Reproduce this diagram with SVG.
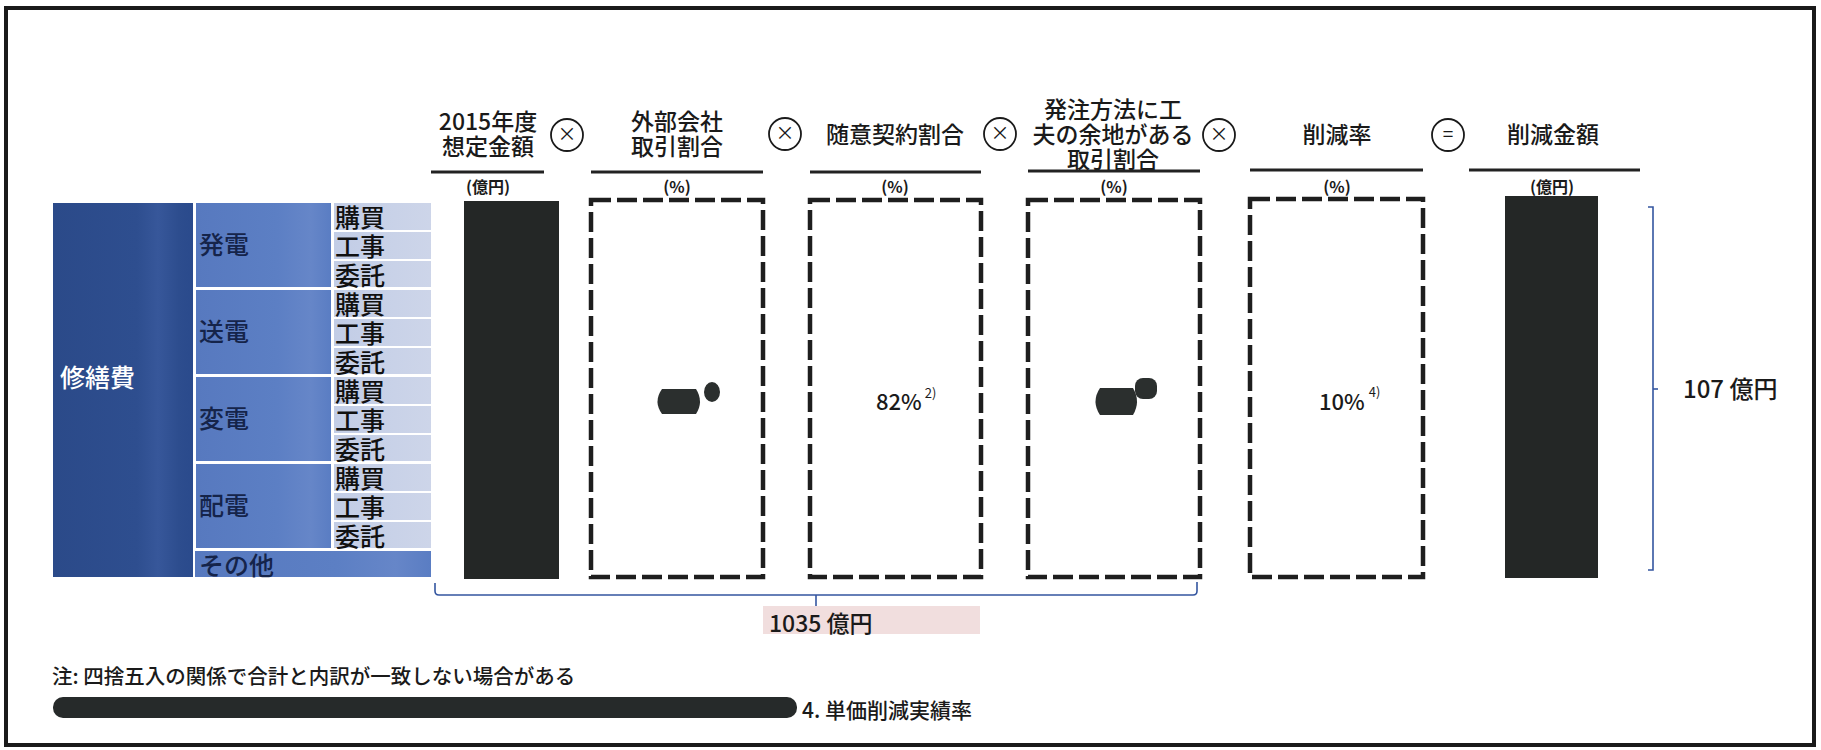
<svg xmlns="http://www.w3.org/2000/svg" width="1821" height="750" viewBox="0 0 1821 750">
<defs>
<style>
text{font-family:"Noto Sans CJK JP","Noto Sans",sans-serif;fill:#1a1a1a}
.h{font-size:23px;text-anchor:middle;font-weight:500}
.u{font-size:16px;text-anchor:middle;font-weight:bold}
.uline{stroke:#222;stroke-width:3}
.dbox{fill:none;stroke:#1e1e1e;stroke-width:4.5;stroke-dasharray:20 6}
.bar{fill:#242726}
.op{fill:none;stroke:#1a1a1a;stroke-width:1.8}
.opt{font-size:19px;text-anchor:middle}
.grp{font-size:25px;fill:#15244a;font-weight:500}
.sub{font-size:25px;fill:#111;font-weight:500}
.bl{fill:none;stroke:#3456a0;stroke-width:1.6}
.sup{font-size:13px;font-weight:normal}
</style>
<linearGradient id="gMain" x1="0" y1="0" x2="1" y2="0">
<stop offset="0" stop-color="#2b4a89"/><stop offset="0.6" stop-color="#2e4e8f"/><stop offset="0.75" stop-color="#37579a"/><stop offset="0.9" stop-color="#2d4d8e"/><stop offset="1" stop-color="#2a4a8c"/>
</linearGradient>
<linearGradient id="gGrp" x1="0" y1="0" x2="1" y2="0">
<stop offset="0" stop-color="#5779bf"/><stop offset="0.6" stop-color="#5c7fc4"/><stop offset="0.85" stop-color="#6686c8"/><stop offset="1" stop-color="#5a7dc3"/>
</linearGradient>
<linearGradient id="gSub" x1="0" y1="0" x2="1" y2="0">
<stop offset="0" stop-color="#c2cde6"/><stop offset="1" stop-color="#cdd5e9"/>
</linearGradient>
</defs>
<rect x="0" y="0" width="1821" height="750" fill="#ffffff"/>
<rect x="6" y="8" width="1808" height="737" fill="none" stroke="#1a1a1a" stroke-width="4"/>

<g id="table">
<g id="main"><rect x="53" y="203" width="140" height="374" fill="url(#gMain)"/><text x="60" y="387" style="font-size:25px;fill:#ffffff;font-weight:500">修繕費</text></g>
<g id="hatsuden"><rect x="196" y="203" width="135" height="84" fill="url(#gGrp)"/><text class="grp" x="199" y="254">発電</text>
<rect x="334" y="203" width="97" height="27" fill="url(#gSub)"/><text class="sub" x="335" y="227">購買</text>
<rect x="334" y="232" width="97" height="27" fill="url(#gSub)"/><text class="sub" x="335" y="256">工事</text>
<rect x="334" y="261" width="97" height="26" fill="url(#gSub)"/><text class="sub" x="335" y="285">委託</text></g>
<g id="souden"><rect x="196" y="290" width="135" height="84" fill="url(#gGrp)"/><text class="grp" x="199" y="341">送電</text>
<rect x="334" y="290" width="97" height="27" fill="url(#gSub)"/><text class="sub" x="335" y="314">購買</text>
<rect x="334" y="319" width="97" height="27" fill="url(#gSub)"/><text class="sub" x="335" y="343">工事</text>
<rect x="334" y="348" width="97" height="26" fill="url(#gSub)"/><text class="sub" x="335" y="372">委託</text></g>
<g id="henden"><rect x="196" y="377" width="135" height="84" fill="url(#gGrp)"/><text class="grp" x="199" y="428">変電</text>
<rect x="334" y="377" width="97" height="27" fill="url(#gSub)"/><text class="sub" x="335" y="401">購買</text>
<rect x="334" y="406" width="97" height="27" fill="url(#gSub)"/><text class="sub" x="335" y="430">工事</text>
<rect x="334" y="435" width="97" height="26" fill="url(#gSub)"/><text class="sub" x="335" y="459">委託</text></g>
<g id="haiden"><rect x="196" y="464" width="135" height="84" fill="url(#gGrp)"/><text class="grp" x="199" y="515">配電</text>
<rect x="334" y="464" width="97" height="27" fill="url(#gSub)"/><text class="sub" x="335" y="488">購買</text>
<rect x="334" y="493" width="97" height="27" fill="url(#gSub)"/><text class="sub" x="335" y="517">工事</text>
<rect x="334" y="522" width="97" height="26" fill="url(#gSub)"/><text class="sub" x="335" y="546">委託</text></g>
<g id="sonota"><rect x="195" y="551" width="236" height="26" fill="url(#gGrp)"/><text class="grp" x="199" y="575">その他</text></g>
</g>

<g id="col1">
<text class="h" x="488" y="130"><tspan x="488" y="130">2015年度</tspan><tspan x="488" y="155">想定金額</tspan></text>
<line class="uline" x1="431" y1="172" x2="544" y2="172"/>
<text class="u" x="488" y="193">(億円)</text>
<rect class="bar" x="464" y="201" width="95" height="378"/>
</g>
<g id="op1"><circle class="op" cx="567" cy="135" r="16"/><text class="opt" x="567" y="141">×</text></g>

<g id="col2">
<text class="h" x="677" y="130"><tspan x="677" y="130">外部会社</tspan><tspan x="677" y="155">取引割合</tspan></text>
<line class="uline" x1="591" y1="172" x2="763" y2="172"/>
<text class="u" x="677" y="193">(%)</text>
<rect class="dbox" x="591" y="200" width="172" height="377"/>
<path d="M662 389 L696 389 Q704 401.5 696 414 L662 414 Q653 401.5 662 389 Z" fill="#2b2f2e"/>
<ellipse cx="712" cy="392" rx="8" ry="10" fill="#2b2f2e"/>
</g>
<g id="op2"><circle class="op" cx="785" cy="134" r="16"/><text class="opt" x="785" y="140">×</text></g>

<g id="col3">
<text class="h" x="895" y="143">随意契約割合</text>
<line class="uline" x1="810" y1="172" x2="981" y2="172"/>
<text class="u" x="895" y="193">(%)</text>
<rect class="dbox" x="810" y="200" width="171" height="377"/>
<text x="876" y="410" style="font-size:22px;font-weight:500">82%<tspan class="sup" dx="3" dy="-12">2)</tspan></text>
</g>
<g id="op3"><circle class="op" cx="1000" cy="134" r="16"/><text class="opt" x="1000" y="140">×</text></g>

<g id="col4">
<text class="h" x="1113" y="118"><tspan x="1113" y="118">発注方法に工</tspan><tspan x="1113" y="143">夫の余地がある</tspan><tspan x="1113" y="168">取引割合</tspan></text>
<line class="uline" x1="1028" y1="171" x2="1200" y2="171"/>
<text class="u" x="1114" y="193">(%)</text>
<rect class="dbox" x="1028" y="200" width="172" height="377"/>
<path d="M1100 388 L1133 388 Q1141 401.5 1133 415 L1100 415 Q1091 401.5 1100 388 Z" fill="#2b2f2e"/>
<rect x="1135" y="378" width="22" height="21" rx="8" fill="#2b2f2e"/>
</g>
<g id="op4"><circle class="op" cx="1219" cy="135" r="16"/><text class="opt" x="1219" y="141">×</text></g>

<g id="col5">
<text class="h" x="1337" y="143">削減率</text>
<line class="uline" x1="1250" y1="170" x2="1423" y2="170"/>
<text class="u" x="1337" y="193">(%)</text>
<rect class="dbox" x="1250" y="199" width="173" height="378"/>
<text x="1319" y="410" style="font-size:22px;font-weight:500">10%<tspan class="sup" dx="4" dy="-13">4)</tspan></text>
</g>
<g id="op5"><circle class="op" cx="1448" cy="135" r="16"/><text class="opt" x="1448" y="141">=</text></g>

<g id="col6">
<text class="h" x="1553" y="143">削減金額</text>
<line class="uline" x1="1469" y1="170" x2="1640" y2="170"/>
<text class="u" x="1552" y="193">(億円)</text>
<rect class="bar" x="1505" y="196" width="93" height="382"/>
</g>

<g id="connectors">
<path class="bl" d="M435 583 L435 591 Q435 595 439 595 L1193 595 Q1197 595 1197 591 L1197 582"/>
<line class="bl" x1="816" y1="595" x2="816" y2="607"/>
<path class="bl" d="M1648 207 L1653 207 L1653 570 L1648 570"/>
<line class="bl" x1="1653" y1="389" x2="1658" y2="389"/>
</g>

<g id="total">
<rect x="763" y="606" width="217" height="28" fill="#f1dede"/>
<text x="769" y="632" style="font-size:23px;font-weight:500">1035 億円</text>
</g>
<g id="result"><text x="1683" y="398" style="font-size:24px;font-weight:500">107 億円</text></g>

<g id="notes">
<text x="52" y="684" style="font-size:20.5px;font-weight:500">注: 四捨五入の関係で合計と内訳が一致しない場合がある</text>
<rect x="53" y="697" width="744" height="21" rx="10" fill="#262a2a"/>
<text x="802" y="718" style="font-size:21px;font-weight:500">4. 単価削減実績率</text>
</g>
</svg>
